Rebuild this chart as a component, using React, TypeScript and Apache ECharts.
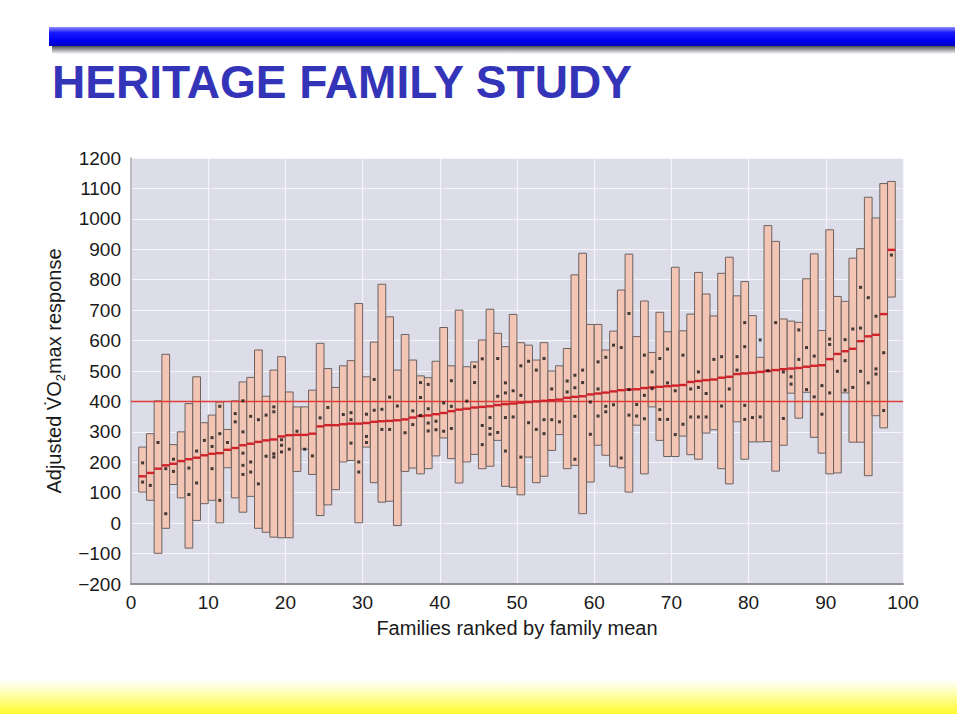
import React, { useEffect, useRef } from "react";
import * as echarts from "echarts";

// Families ranked 1..98 by family mean (position in arrays = rank)
const FAMILY_MAX = [
  250, 294, 402, 555, 258, 300, 393, 481, 330, 355,
  398, 308, 402, 464, 479, 569, 417, 503, 547, 431,
  382, 382, 437, 591, 508, 446, 517, 534, 722, 481,
  595, 785, 678, 503, 620, 536, 484, 478, 532, 643,
  517, 700, 514, 530, 602, 703, 624, 580, 686, 593,
  585, 536, 593, 500, 517, 574, 816, 887, 653, 653,
  569, 631, 766, 884, 613, 730, 561, 693, 629, 841,
  632, 687, 824, 753, 681, 821, 874, 747, 794, 682,
  545, 978, 926, 671, 664, 660, 803, 885, 633, 964,
  745, 729, 871, 902, 1071, 1003, 1116, 1123,
];
const FAMILY_MIN = [
  102, 75, -99, -17, 127, 83, -82, 9, 64, 75,
  1, 182, 83, 36, 88, -17, -30, -46, -48, -48,
  170, 243, 160, 25, 60, 110, 201, 206, 1, 250,
  133, 69, 72, -8, 170, 181, 162, 179, 221, 280,
  212, 132, 201, 226, 179, 187, 272, 121, 118, 93,
  217, 133, 154, 239, 291, 179, 190, 31, 135, 256,
  223, 187, 182, 102, 322, 162, 382, 272, 219, 219,
  286, 225, 210, 296, 307, 179, 129, 333, 210, 267,
  267, 268, 171, 256, 427, 345, 430, 282, 230, 162,
  165, 428, 266, 266, 156, 353, 313, 743,
];
const FAMILY_MEAN = [
  154, 165, 179, 190, 195, 204, 210, 215, 223, 228,
  230, 241, 247, 256, 261, 267, 272, 275, 285, 289,
  290, 290, 294, 318, 322, 322, 325, 327, 327, 329,
  333, 335, 336, 338, 341, 347, 352, 354, 358, 362,
  368, 373, 376, 380, 382, 384, 388, 391, 393, 396,
  398, 400, 402, 404, 406, 412, 415, 417, 423, 426,
  429, 433, 437, 439, 440, 444, 446, 448, 450, 452,
  454, 464, 467, 470, 472, 478, 481, 490, 492, 494,
  497, 500, 503, 506, 508, 510, 514, 517, 519, 539,
  556, 565, 573, 598, 614, 619, 687, 898,
];
// Individual member responses per family
const MEMBER_VALUES = [
  [198, 135], [124], [265], [179, 31], [210, 170], [], [181, 94], [237, 132], [272], [281, 252, 179],
  [384, 294, 75], [265], [360, 333], [402, 300, 230, 190, 160], [351, 201, 168], [340, 129], [355, 220], [382, 366, 228, 217], [274, 256, 234], [243],
  [302], [243], [221], [346], [380], [], [357], [363, 340, 263], [201, 168], [358, 285, 265],
  [472, 371], [374, 308], [414, 308], [385], [297], [369, 324], [462, 413, 354], [456, 376, 329, 303], [335, 307], [395, 302],
  [468, 384, 311], [], [401], [514, 462], [540, 321, 258], [347, 311, 292], [541, 417, 298], [461, 428, 347, 237], [435, 349], [517, 420, 217],
  [532, 330], [503, 308], [541, 340, 294], [441, 340], [333], [467, 431], [486, 445, 351, 210], [503, 462], [398, 292], [530, 441, 352],
  [545, 384, 366], [585, 389], [577, 214], [689, 439, 355], [390, 352], [552, 420, 343], [497, 442], [541, 373, 341], [572, 461, 341], [435, 291],
  [552, 325], [441, 349], [497, 446, 349], [426, 349], [538], [547, 385], [441], [547, 503], [659, 580, 387, 341], [347],
  [602, 349], [501], [659], [497, 344], [481, 457], [635, 538], [577, 439], [549, 415], [452, 358], [605, 587, 428],
  [499], [603, 534, 437], [638, 446], [775, 641, 499], [741, 461], [680, 507, 490], [560, 370], [881],
];
const REFERENCE_LEVEL = 400;
const TITLE = "HERITAGE FAMILY STUDY";
const X_NAME = "Families ranked by family mean";

export default function App() {
  const ref = useRef<HTMLDivElement>(null);

  useEffect(() => {
    if (!ref.current) return;
    const chart = echarts.init(ref.current, null, { renderer: "svg" });

    const rangeData = FAMILY_MAX.map((hi, i) => [i + 1, FAMILY_MIN[i], hi]);
    const meanData = FAMILY_MEAN.map((m, i) => [i + 1, m]);
    const dotData: number[][] = [];
    MEMBER_VALUES.forEach((vals, i) => vals.forEach((v) => dotData.push([i + 1.5, v])));

    const font = '"Liberation Sans", Arial, Helvetica, sans-serif';

    chart.setOption({
      animation: false,
      backgroundColor: "#ffffff",
      grid: {
        left: 131,
        top: 158,
        width: 772,
        height: 426,
        show: true,
        backgroundColor: "#dcdde8",
        borderWidth: 0,
      },
      xAxis: {
        type: "value",
        min: 0,
        max: 100,
        interval: 10,
        name: X_NAME,
        nameLocation: "middle",
        nameGap: 34,
        nameTextStyle: { fontFamily: font, fontSize: 20, color: "#1a1a1a" },
        axisLine: { show: true, onZero: false, lineStyle: { color: "#8e8e94", width: 2 } },
        axisTick: { show: false },
        axisLabel: { fontFamily: font, fontSize: 19, color: "#1a1a1a", margin: 9 },
        splitLine: { show: true, lineStyle: { color: "#f6f6fa", width: 1.2 } },
      },
      yAxis: {
        type: "value",
        min: -200,
        max: 1200,
        interval: 100,
        name: "Adjusted V\u0307O{sub|2}max response",
        nameLocation: "middle",
        nameRotate: 90,
        nameGap: 58,
        nameTextStyle: {
          fontFamily: font,
          fontSize: 20,
          color: "#1a1a1a",
          lineHeight: 26,
          rich: {
            sub: { fontFamily: font, fontSize: 13, color: "#1a1a1a", verticalAlign: "bottom", lineHeight: 13 },
          },
        },
        axisLine: { show: true, onZero: false, lineStyle: { color: "#a6a6ac", width: 1.5 } },
        axisTick: { show: false },
        axisLabel: {
          fontFamily: font,
          fontSize: 19,
          color: "#1a1a1a",
          margin: 10,
          formatter: (v: number) => (v < 0 ? "\u2212" + Math.abs(v) : String(v)),
        },
        splitLine: { show: true, lineStyle: { color: "#f6f6fa", width: 1.2 } },
      },
      series: [
        {
          type: "custom",
          name: "range",
          z: 2,
          data: rangeData,
          renderItem: (params: any, api: any) => {
            const x = api.value(0);
            const lo = api.value(1);
            const hi = api.value(2);
            const p1 = api.coord([x, hi]);
            const p2 = api.coord([x + 1, lo]);
            return {
              type: "rect",
              shape: { x: p1[0], y: p1[1], width: p2[0] - p1[0], height: p2[1] - p1[1] },
              style: { fill: "#f2c5b4", stroke: "#6c6262", lineWidth: 1 },
            };
          },
        },
        {
          type: "custom",
          name: "reference",
          z: 3,
          data: [[0, REFERENCE_LEVEL, 100]],
          renderItem: (params: any, api: any) => {
            const p1 = api.coord([api.value(0), api.value(1)]);
            const p2 = api.coord([api.value(2), api.value(1)]);
            const y = Math.round(p1[1]) + 0.5;
            return {
              type: "line",
              shape: { x1: p1[0], y1: y, x2: p2[0], y2: y },
              style: { stroke: "#e23c36", lineWidth: 1.3 },
            };
          },
        },
        {
          type: "custom",
          name: "mean",
          z: 4,
          data: meanData,
          renderItem: (params: any, api: any) => {
            const x = api.value(0);
            const m = api.value(1);
            const p1 = api.coord([x, m]);
            const p2 = api.coord([x + 1, m]);
            return {
              type: "line",
              shape: { x1: p1[0], y1: p1[1], x2: p2[0], y2: p2[1] },
              style: { stroke: "#d0232b", lineWidth: 2.4 },
            };
          },
        },
        {
          type: "scatter",
          name: "members",
          z: 5,
          data: dotData,
          symbol: "rect",
          symbolSize: 3,
          itemStyle: { color: "#151515" },
        },
      ],
      graphic: [
        {
          type: "rect",
          shape: { x: 52, y: 45, width: 903, height: 9 },
          style: {
            fill: new echarts.graphic.LinearGradient(0, 0, 0, 1, [
              { offset: 0, color: "rgba(20,20,30,0.85)" },
              { offset: 1, color: "rgba(20,20,30,0)" },
            ]),
          },
        },
        {
          type: "rect",
          shape: { x: 49, y: 27, width: 906, height: 19 },
          style: {
            fill: new echarts.graphic.LinearGradient(0, 0, 0, 1, [
              { offset: 0, color: "#8c8cff" },
              { offset: 0.3, color: "#1a1aff" },
              { offset: 0.7, color: "#0000f4" },
              { offset: 1, color: "#0000c0" },
            ]),
          },
        },
        {
          type: "text",
          x: 52,
          y: 81.5,
          scaleX: 0.98,
          style: {
            text: TITLE,
            fill: "#3434b8",
            font: 'bold 47px "Liberation Sans", Arial, sans-serif',
            verticalAlign: "middle",
          },
        },
        {
          type: "rect",
          shape: { x: 0, y: 680, width: 957, height: 34 },
          style: {
            fill: new echarts.graphic.LinearGradient(0, 0, 0, 1, [
              { offset: 0, color: "rgba(255,255,60,0)" },
              { offset: 1, color: "rgba(255,250,40,1)" },
            ]),
          },
        },
      ],
    });

    return () => chart.dispose();
  }, []);

  return (
    <div
      ref={ref}
      style={{ position: "fixed", left: 0, top: 0, width: 960, height: 717, background: "#fff" }}
    />
  );
}
